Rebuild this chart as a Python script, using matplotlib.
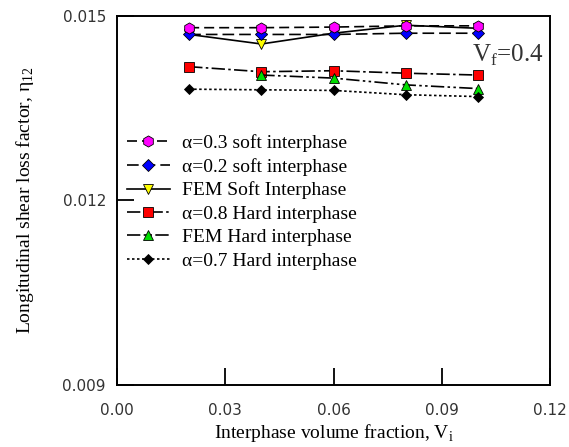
import matplotlib
matplotlib.use("Agg")
import matplotlib.pyplot as plt

# Data
vi = [0.02, 0.04, 0.06, 0.08, 0.10]
vi_fem_hard = [0.04, 0.06, 0.08, 0.10]
soft_a03 = [0.01481, 0.01481, 0.01482, 0.01484, 0.01484]
soft_a02 = [0.01470, 0.01470, 0.01470, 0.01472, 0.01472]
fem_soft = [0.01470, 0.014545, 0.01472, 0.01485, 0.01480]
hard_a08 = [0.014176, 0.014094, 0.01411, 0.01407, 0.01404]
fem_hard = [0.01404, 0.01399, 0.01388, 0.01382]
hard_a07 = [0.01381, 0.01380, 0.01379, 0.01372, 0.01369]

serif = ["Liberation Serif", "DejaVu Serif"]

fig = plt.figure(figsize=(5.69, 4.47), dpi=100)
ax = fig.add_axes([117 / 569, 1 - 385 / 447, 433 / 569, 369 / 447])

ax.plot(vi, soft_a03, color="black", lw=1.2, ls=(0, (6, 3)), marker="h",
        ms=8, mfc="#ff00ff", mec="black", mew=0.6, label="α=0.3 soft interphase", zorder=5)
ax.plot(vi, soft_a02, color="black", lw=1.2, ls=(0, (7, 3)), marker="D",
        ms=6.5, mfc="#0000ff", mec="black", mew=0.6, label="α=0.2 soft interphase", zorder=4)
ax.plot(vi, fem_soft, color="black", lw=1.2, ls="-", marker="v",
        ms=6.5, mfc="#ffff00", mec="black", mew=0.6, label="FEM Soft Interphase", zorder=3)
ax.plot(vi, hard_a08, color="black", lw=1.2, ls=(0, (8, 2, 1.5, 2)), marker="s",
        ms=7.5, mfc="#ff0000", mec="black", mew=0.6, label="α=0.8 Hard interphase", zorder=3)
ax.plot(vi_fem_hard, fem_hard, color="black", lw=1.2, ls=(0, (8, 2, 1.5, 2, 1.5, 2)),
        marker="^", ms=6.5, mfc="#00dd00", mec="black", mew=0.6,
        label="FEM Hard interphase", zorder=4)
ax.plot(vi, hard_a07, color="black", lw=1.2, ls=(0, (1.5, 1.5)), marker="D",
        ms=5.5, mfc="black", mec="black", mew=0.6, label="α=0.7 Hard interphase", zorder=4)

ax.set_xlim(0, 0.12)
ax.set_ylim(0.009, 0.015)
ax.set_xticks([0.0, 0.03, 0.06, 0.09, 0.12])
ax.set_xticklabels(["0.00", "0.03", "0.06", "0.09", "0.12"])
ax.set_yticks([0.009, 0.012, 0.015])
ax.set_yticklabels(["0.009", "0.012", "0.015"])
ax.tick_params(direction="in", length=12, width=1.3, labelsize=11, colors="black",
               labelcolor="#333333")
ax.tick_params(axis="x", pad=13)
ax.tick_params(axis="y", pad=8)
for s in ax.spines.values():
    s.set_linewidth(1.4)

ax.set_xlabel("Interphase volume fraction, V$_\\mathregular{i}$", fontfamily=serif,
              fontsize=14, labelpad=3)
ax.set_ylabel("Longitudinal shear loss factor, η$_\\mathregular{12}$", fontfamily=serif,
              fontsize=14, labelpad=19)

ax.text(0.0985, 0.01436, "V$_\\mathregular{f}$=0.4", fontfamily=serif, fontsize=18,
        color="#333333", va="center", ha="left")

ax.legend(loc="upper left", bbox_to_anchor=(0.023, 0.68), frameon=False,
          prop={"family": serif, "size": 14}, handlelength=2.2,
          handletextpad=0.65, labelspacing=0.3, borderaxespad=0, borderpad=0)

fig.savefig("out.png", dpi=100)
